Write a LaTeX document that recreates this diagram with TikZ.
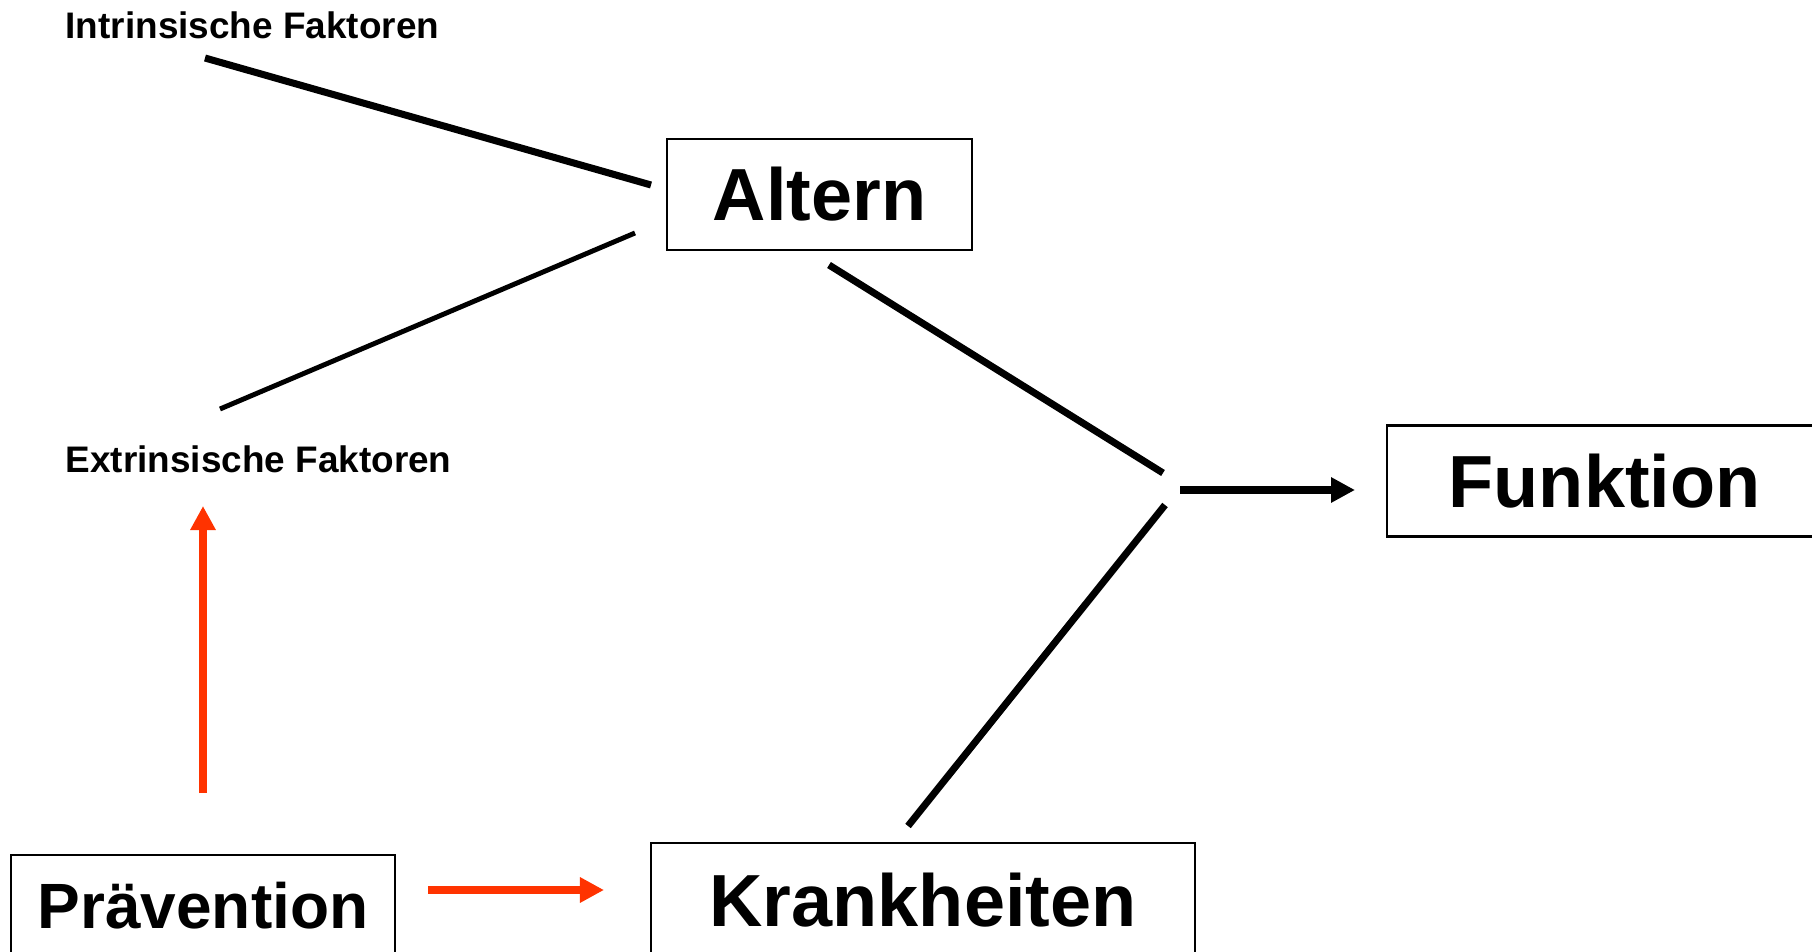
\documentclass[tikz,border=0pt]{standalone}
\usepackage{fontspec}
\setmainfont{Liberation Sans}
\usepackage{tikz}
\usetikzlibrary{arrows.meta, positioning}
\definecolor{praevrot}{RGB}{255,51,0}

\begin{document}
\begin{tikzpicture}[x=0.01cm,y=-0.01cm,
		kasten/.style={draw, line width=0.6pt, inner sep=0pt, minimum height=1.11cm, font=\fontsize{21}{21}\selectfont\bfseries},
		faktor/.style={inner sep=0pt, anchor=base west, font=\fontsize{10.5}{10.5}\selectfont\bfseries},
		linie/.style={line width=2pt},
		pfeil/.style={line width=2.3pt, -{Triangle[length=0.24cm,width=0.24cm]}}]
%			\draw[help lines] (0,0) grid[step=100] (1812,952);
			\useasboundingbox (0,0) rectangle (1812,952);
			\node[kasten, minimum width=3.05cm] (altern) at (819.5,194.5) {Altern};
			\node[kasten, minimum width=4.35cm] (funktion) at (1604.5,481) {Funktion};
			\node[kasten, minimum width=5.44cm, minimum height=1.14cm] (krankheiten) at (923,900) {Krankheiten};
			\node[kasten, minimum width=3.84cm, minimum height=1.01cm, font=\fontsize{18.2}{18.2}\selectfont\bfseries] (praevention) at (203,905.5) {Prävention};
			\node[faktor] (intrinsisch) at (65,39) {Intrinsische Faktoren};
			\node[faktor] (extrinsisch) at (65,472) {Extrinsische Faktoren};
			% freie Enden der Linien
			\coordinate (intrunten) at (205,58);
			\coordinate (introben) at (651,185);
			\coordinate (extroben) at (220,409);
			\coordinate (extrunten) at (635,233);
			\coordinate (alternab) at (829,265);
			\coordinate (joinoben) at (1163,473);
			\coordinate (krankauf) at (908,826);
			\coordinate (joinunten) at (1165,505);
			\coordinate (joinstart) at (1180,490);
			\coordinate (funktionein) at (1355,490);
			\coordinate (praevauf) at (203,793);
			\coordinate (extrein) at (203,506);
			\coordinate (praevrechts) at (428,890);
			\coordinate (krankein) at (604,890);
			\path
				(intrunten) edge[linie] (introben)
				(extroben) edge[linie, line width=1.4pt] (extrunten)
				(alternab) edge[linie] (joinoben)
				(krankauf) edge[linie] (joinunten)
				(joinstart) edge[pfeil] (funktionein)
				(praevauf) edge[pfeil, praevrot] (extrein)
				(praevrechts) edge[pfeil, praevrot] (krankein);
		\end{tikzpicture}
\end{document}
